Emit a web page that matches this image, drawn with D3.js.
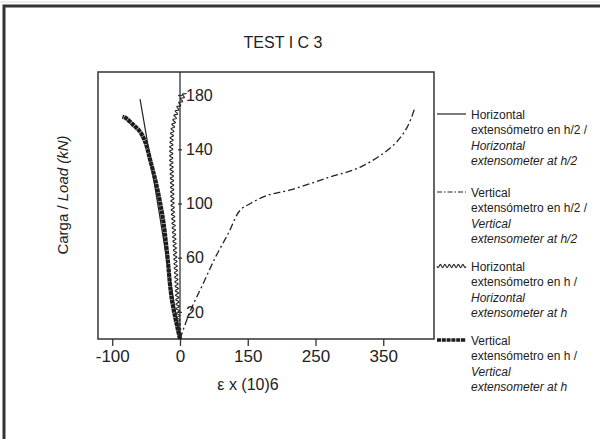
<!DOCTYPE html>
<html><head><meta charset="utf-8">
<script src="https://cdn.jsdelivr.net/npm/d3@7"></script>
<style>
html,body{margin:0;padding:0;background:#fff;}
svg text{font-family:"Liberation Sans",Arial,sans-serif;fill:#222;}
</style></head>
<body>
<svg id="c" width="600" height="439"></svg>
<script>
// ---- data ----
const xTickValues = [-100, 0, 150, 250, 350];
const xTickLabels = ["-100", "0", "150", "250", "350"];
const yTickValues = [20, 60, 100, 140, 180];

// Horizontal extensometer at h/2 (solid)
const hHalfX = [0, -10, -20, -30, -40, -50, -59];
const hHalfY = [0, 30, 60, 91, 121, 151, 177];
// Vertical extensometer at h/2 (dash-dot)
const vHalfX = [0, 22, 50, 78, 107, 133, 154, 179, 213, 268, 317, 365, 385, 397];
const vHalfY = [0, 20, 40, 60, 78, 95, 100, 106, 110, 119, 127, 143, 156, 171];
// Horizontal extensometer at h (wavy)
const hFullX = [0, -3, -5, -7, -9, -11, -12, -13, -12, -9, -4, 3, 11];
const hFullY = [0, 20, 40, 60, 80, 100, 120, 135, 150, 160, 169, 176, 182];
// Vertical extensometer at h (thick)
const vFullX = [0, -12, -19, -25, -34, -44, -51, -59, -69, -80, -85];
const vFullY = [0, 29, 63, 88, 112, 132, 145, 153, 158, 163, 164];

const legendItems = [
  {type:"solid", lines:["Horizontal","extensómetro en h/2 /"], it:["Horizontal","extensometer at h/2"]},
  {type:"dashdot", lines:["Vertical","extensómetro en h/2 /"], it:["Vertical","extensometer at h/2"]},
  {type:"wavy", lines:["Horizontal","extensómetro en h /"], it:["Horizontal","extensometer at h"]},
  {type:"thick", lines:["Vertical","extensómetro en h /"], it:["Vertical","extensometer at h"]}
];

// ---- layout ----
const svg = d3.select("#c");
const L = 98, R = 434, T = 72, B = 339;
const step = 67.75, x0px = 180;
const x = d3.scaleLinear()
  .domain(xTickValues)
  .range(xTickValues.map((d,i)=> x0px + (i-1)*step));
const y = d3.scaleLinear().domain([0, 197]).range([B, T]);

// outer frame
svg.append("rect").attr("x",4).attr("y",6).attr("width",800).attr("height",800)
  .attr("fill","none").attr("stroke","#333").attr("stroke-width",3);
svg.append("line").attr("x1",0).attr("x2",600).attr("y1",2).attr("y2",2)
  .attr("stroke","#ddd").attr("stroke-width",1);

// title
svg.append("text").attr("x",283).attr("y",48).attr("text-anchor","middle")
  .attr("font-size",16).text("TEST I C 3");

// plot frame
svg.append("rect").attr("x",L).attr("y",T).attr("width",R-L).attr("height",B-T)
  .attr("fill","none").attr("stroke","#333").attr("stroke-width",1.5);

// x axis
const xAxis = d3.axisBottom(x).tickValues(xTickValues)
  .tickFormat((d,i)=>xTickLabels[i]).tickSize(7).tickPadding(4);
const gx = svg.append("g").attr("transform",`translate(0,${B})`).call(xAxis);
gx.select(".domain").remove();
gx.selectAll("line").attr("stroke","#333").attr("stroke-width",1.3);
gx.selectAll("text").attr("font-size",17).attr("font-family","Liberation Sans, Arial, sans-serif").attr("fill","#222");

// y axis at x=0
svg.append("line").attr("x1",x(0)).attr("x2",x(0)).attr("y1",T).attr("y2",B)
  .attr("stroke","#333").attr("stroke-width",1.3);
const yAxis = d3.axisRight(y).tickValues(yTickValues).tickSize(4).tickPadding(4);
const gy = svg.append("g").attr("transform",`translate(${x(0)-2},0)`).call(yAxis);
gy.select(".domain").remove();
gy.selectAll("line").attr("stroke","#333").attr("stroke-width",1.3);
gy.selectAll("text").attr("font-size",16).attr("font-family","Liberation Sans, Arial, sans-serif").attr("fill","#222");

// axis titles
svg.append("text").attr("x",248).attr("y",390).attr("text-anchor","middle")
  .attr("font-size",16).text("ε x (10)6");
const yl = svg.append("text").attr("transform","translate(68,195) rotate(-90)")
  .attr("text-anchor","middle").attr("font-size",15);
yl.append("tspan").text("Carga /  ");
yl.append("tspan").attr("font-style","italic").text("Load (kN)");

// ---- series ----
const zip = (xs, ys) => xs.map((d,i)=>[x(d), y(ys[i])]);
const lineGen = d3.line().curve(d3.curveCatmullRom.alpha(0.5));
const g = svg.append("g");

function wavyPath(pts, period, amp){
  const tmp = svg.append("path").attr("d", lineGen(pts)).attr("fill","none");
  const node = tmp.node(); const len = node.getTotalLength();
  const out = [];
  for(let s=0; s<=len; s+=0.5){
    const p = node.getPointAtLength(s);
    const p2 = node.getPointAtLength(Math.min(len, s+0.5));
    const p1 = node.getPointAtLength(Math.max(0, s-0.5));
    let dx = p2.x-p1.x, dy = p2.y-p1.y; const n = Math.hypot(dx,dy)||1;
    const nx = -dy/n, ny = dx/n;
    const o = amp*Math.sin(2*Math.PI*s/period);
    out.push([p.x+nx*o, p.y+ny*o]);
  }
  tmp.remove();
  return d3.line()(out);
}

// thick vertical at h
g.append("path").attr("d", lineGen(zip(vFullX, vFullY))).attr("fill","none")
  .attr("stroke","#1c1c1c").attr("stroke-width",4.2).attr("stroke-dasharray","4,0.5");
// solid horizontal at h/2
g.append("path").attr("d", lineGen(zip(hHalfX, hHalfY))).attr("fill","none")
  .attr("stroke","#222").attr("stroke-width",1.2);
// wavy horizontal at h
g.append("path").attr("d", wavyPath(zip(hFullX, hFullY), 4.5, 1.6)).attr("fill","none")
  .attr("stroke","#222").attr("stroke-width",1.1);
// dash-dot vertical at h/2
g.append("path").attr("d", lineGen(zip(vHalfX, vHalfY))).attr("fill","none")
  .attr("stroke","#222").attr("stroke-width",1.3).attr("stroke-dasharray","7,3,2,3");

// ---- legend ----
const legY = [114, 192, 266, 340];
const lh = 15.5;
legendItems.forEach((it, i) => {
  const yy = legY[i];
  const sx0 = 437, sx1 = 466;
  if (it.type === "solid") {
    svg.append("line").attr("x1",sx0).attr("x2",sx1).attr("y1",yy).attr("y2",yy)
      .attr("stroke","#222").attr("stroke-width",1.2);
  } else if (it.type === "dashdot") {
    svg.append("line").attr("x1",sx0).attr("x2",sx1).attr("y1",yy).attr("y2",yy)
      .attr("stroke","#222").attr("stroke-width",1.2).attr("stroke-dasharray","5,2,1.5,2");
  } else if (it.type === "wavy") {
    svg.append("path").attr("d", wavyPath([[sx0,yy],[sx1,yy]], 4.5, 1.6))
      .attr("fill","none").attr("stroke","#222").attr("stroke-width",1.1);
  } else {
    svg.append("line").attr("x1",sx0).attr("x2",sx1).attr("y1",yy).attr("y2",yy)
      .attr("stroke","#1c1c1c").attr("stroke-width",3.5).attr("stroke-dasharray","4,0.8");
  }
  const t = svg.append("text").attr("font-size",12);
  const all = it.lines.map(s=>({s, ital:false})).concat(it.it.map(s=>({s, ital:true})));
  all.forEach((d, k) => {
    t.append("tspan").attr("x",471).attr("y", yy + 4.5 + k*lh)
      .attr("font-style", d.ital ? "italic" : "normal").text(d.s);
  });
});
</script>
</body></html>
